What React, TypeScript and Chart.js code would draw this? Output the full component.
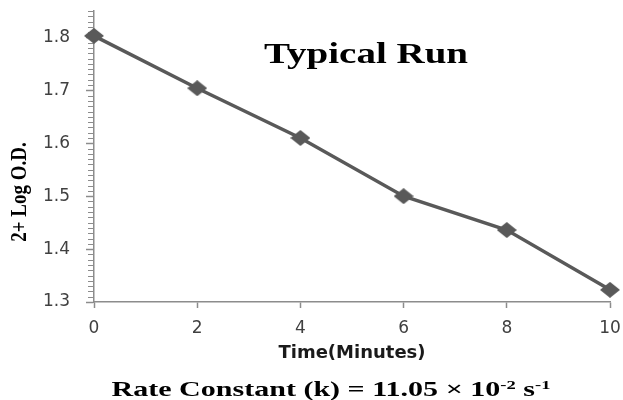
import React, { useEffect, useRef } from 'react';
import { Chart, registerables } from 'chart.js';

Chart.register(...registerables);

const timeMinutes = [0, 2, 4, 6, 8, 10];
const logOD = [1.803, 1.704, 1.61, 1.5, 1.436, 1.323];
const xTickValues = [0, 2, 4, 6, 8, 10];
const yTickValues = [1.3, 1.4, 1.5, 1.6, 1.7, 1.8];
const chartTitle = 'Typical Run';
const xAxisTitle = 'Time(Minutes)';
const yAxisTitle = '2+ Log O.D.';
const footnoteParts = [
  { text: 'Rate Constant (k) = 11.05 \u00d7 10', sup: false },
  { text: '-2', sup: true },
  { text: ' s', sup: false },
  { text: '-1', sup: true },
];

const AXIS_GRAY = '#8c8c8c';
const LINE_GRAY = '#595959';

function makeDiamond(w: number, h: number, color: string) {
  const cv = document.createElement('canvas');
  cv.width = w;
  cv.height = h;
  const c = cv.getContext('2d')!;
  c.fillStyle = color;
  c.beginPath();
  c.moveTo(w / 2, 0);
  c.lineTo(w, h / 2);
  c.lineTo(w / 2, h);
  c.lineTo(0, h / 2);
  c.closePath();
  c.fill();
  return cv;
}

export default function App() {
  const ref = useRef<HTMLCanvasElement>(null);

  useEffect(() => {
    document.body.style.margin = '0';
    const canvas = ref.current!;
    const diamond = makeDiamond(20, 16, LINE_GRAY);

    const decor = {
      id: 'decor',
      beforeDatasetsDraw(chart: any) {
        const c = chart.ctx;
        const y = chart.scales.y;
        c.save();
        c.strokeStyle = AXIS_GRAY;
        c.lineWidth = 1;
        const lo = Math.round(y.min * 100);
        const hi = Math.round(y.max * 100);
        for (let i = lo; i <= hi; i++) {
          const py = Math.round(y.getPixelForValue(i / 100)) + 0.5;
          c.beginPath();
          c.moveTo(y.right - 6, py);
          c.lineTo(y.right, py);
          c.stroke();
        }
        c.restore();
      },
      afterDraw(chart: any) {
        const c = chart.ctx;
        c.save();
        c.fillStyle = '#000';
        // chart title inside plot area
        c.save();
        c.font = 'bold 30px "Liberation Serif"';
        c.textAlign = 'center';
        c.textBaseline = 'alphabetic';
        c.translate(366, 63);
        c.scale(1.3, 1);
        c.fillText(chartTitle, 0, 0);
        c.restore();

        // y axis title
        c.save();
        c.font = 'bold 19px "Liberation Serif"';
        c.textAlign = 'center';
        c.textBaseline = 'middle';
        c.translate(20, 192);
        c.rotate(-Math.PI / 2);
        c.scale(1, 1.2);
        c.fillText(yAxisTitle, 0, 0);
        c.restore();

        // footnote
        const mainFont = 'bold 21px "Liberation Serif"';
        const supFont = 'bold 13px "Liberation Serif"';
        const sx = 1.43;
        let total = 0;
        const widths = footnoteParts.map((p) => {
          c.font = p.sup ? supFont : mainFont;
          const w = c.measureText(p.text).width;
          total += w;
          return w;
        });
        c.save();
        c.translate(331 - (total * sx) / 2, 396);
        c.scale(sx, 1);
        c.textAlign = 'left';
        c.textBaseline = 'alphabetic';
        let x = 0;
        footnoteParts.forEach((p, i) => {
          c.font = p.sup ? supFont : mainFont;
          c.fillText(p.text, x, p.sup ? -7 : 0);
          x += widths[i];
        });
        c.restore();
        c.restore();
      },
    };

    const chart = new Chart(canvas, {
      type: 'line',
      data: {
        datasets: [
          {
            data: timeMinutes.map((t, i) => ({ x: t, y: logOD[i] })),
            borderColor: LINE_GRAY,
            backgroundColor: LINE_GRAY,
            pointBackgroundColor: LINE_GRAY,
            pointBorderColor: LINE_GRAY,
            borderWidth: 3.5,
            pointStyle: diamond,
            pointRadius: 9,
            pointBorderWidth: 0,
            tension: 0,
            clip: false as any,
          },
        ],
      },
      options: {
        responsive: false,
        animation: false,
        layout: { padding: { top: 11, right: 13, left: 0, bottom: 28 } },
        plugins: {
          legend: { display: false },
          tooltip: { enabled: false },
          title: { display: false },
        },
        scales: {
          x: {
            type: 'linear',
            min: 0,
            max: 10,
            afterBuildTicks: (s: any) => {
              s.ticks = xTickValues.map((v) => ({ value: v }));
            },
            afterFit: (s: any) => {
              s.height = 70;
              s.paddingLeft = 0;
              s.paddingRight = 0;
            },
            grid: {
              display: true,
              drawOnChartArea: false,
              tickLength: 6,
              tickColor: AXIS_GRAY,
              tickWidth: 1.5,
            },
            border: { color: AXIS_GRAY, width: 1.5 },
            ticks: {
              font: { family: 'DejaVu Sans', size: 17 },
              color: '#404040',
              padding: 10,
              maxRotation: 0,
              callback: (v: any) => String(v),
            },
            title: {
              display: true,
              text: xAxisTitle,
              font: { family: 'DejaVu Sans', size: 18, weight: 'bold' },
              color: '#1a1a1a',
              padding: { top: 0, bottom: 8 },
            },
          },
          y: {
            type: 'linear',
            min: 1.3,
            max: 1.85,
            afterBuildTicks: (s: any) => {
              s.ticks = yTickValues.map((v) => ({ value: v }));
            },
            afterFit: (s: any) => {
              s.width = 94;
              s.paddingTop = 0;
              s.paddingBottom = 0;
            },
            grid: {
              display: true,
              drawOnChartArea: false,
              tickLength: 8,
              tickColor: AXIS_GRAY,
              tickWidth: 1.5,
            },
            border: { color: AXIS_GRAY, width: 1.5 },
            ticks: {
              font: { family: 'DejaVu Sans', size: 17 },
              color: '#404040',
              padding: 16,
              callback: (v: any) => Number(v).toFixed(1),
            },
          },
        },
      },
      plugins: [decor],
    } as any);

    return () => chart.destroy();
  }, []);

  return (
    <div style={{ position: 'absolute', left: 0, top: 0, width: 623, height: 400 }}>
      <canvas ref={ref} width={623} height={400} style={{ display: 'block' }} />
    </div>
  );
}
